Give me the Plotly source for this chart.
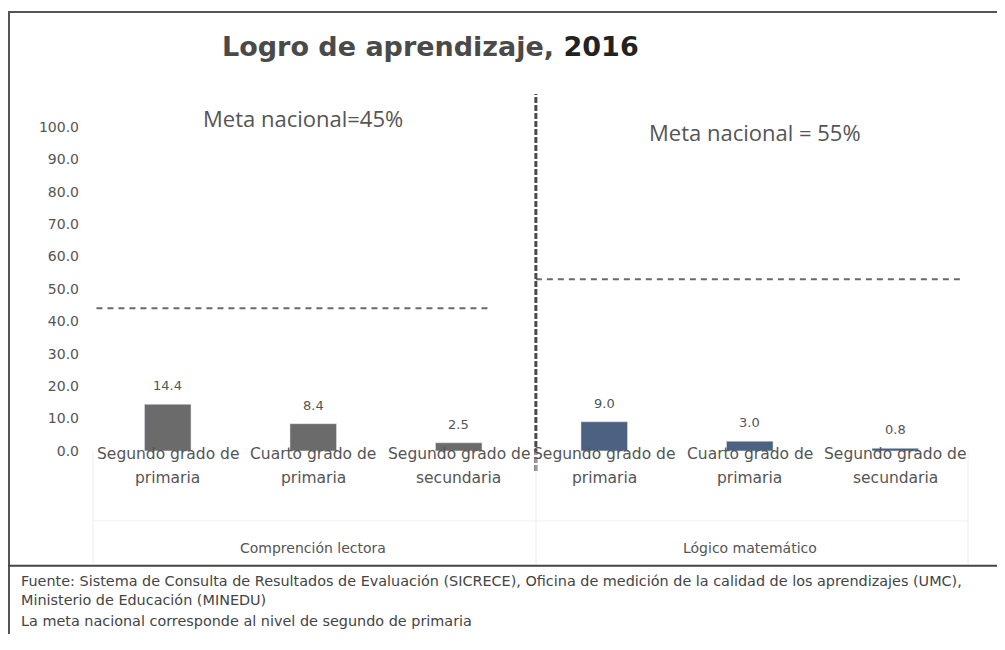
import plotly.graph_objects as go

categories = ["Segundo grado de<br>primaria", "Cuarto grado de<br>primaria", "Segundo grado de<br>secundaria",
              "Segundo grado de<br>primaria", "Cuarto grado de<br>primaria", "Segundo grado de<br>secundaria"]
groups = ["Comprención lectora", "Lógico matemático"]
lectora = [14.4, 8.4, 2.5]
matematico = [9.0, 3.0, 0.8]
meta_lectora = 44.0
meta_matematico = 53.0
yticks = [0, 10, 20, 30, 40, 50, 60, 70, 80, 90, 100]

OFF = 8  # page body margin
W, H = 1005 - 2 * OFF, 650 - 2 * OFF
X0, X1 = 95, 968
Y0, Y1 = 450, 126
FONT = "DejaVu Sans, Arial"


def px(x):
    return (x - OFF) / W


def py(y):
    yi = (y - 7.2) / 0.975
    return (H - (yi - OFF)) / H


xpos = list(range(6))
fig = go.Figure()
fig.add_trace(go.Bar(x=xpos[:3], y=lectora, marker_color="#6b6b6b", width=0.32))
fig.add_trace(go.Bar(x=xpos[3:], y=matematico, marker_color="#4d6282", width=0.32))

# meta lines
fig.add_shape(type="line", xref="x", yref="y", x0=-0.49, x1=2.22, y0=meta_lectora, y1=meta_lectora,
              line=dict(color="#6a6a6a", width=2, dash="6px,5px"))
fig.add_shape(type="line", xref="x", yref="y", x0=2.53, x1=5.45, y0=meta_matematico, y1=meta_matematico,
              line=dict(color="#6a6a6a", width=2, dash="6px,5px"))
# vertical separator
fig.add_shape(type="line", xref="x", yref="paper", x0=2.53, x1=2.53, y0=py(470), y1=py(93),
              line=dict(color="#4a4a4a", width=3, dash="6px,2px"))

# label box (faint)
for xx in [X0 - 2, 536, X1]:
    fig.add_shape(type="line", xref="paper", yref="paper", x0=px(xx), x1=px(xx), y0=py(450), y1=py(563),
                  line=dict(color="#ececec", width=1))
fig.add_shape(type="line", xref="paper", yref="paper", x0=px(X0 - 2), x1=px(X1), y0=py(520), y1=py(520),
              line=dict(color="#f0f0f0", width=1))

# frame
fig.add_shape(type="line", xref="paper", yref="paper", x0=px(8), x1=1, y0=py(11), y1=py(11),
              line=dict(color="#555", width=2))
fig.add_shape(type="line", xref="paper", yref="paper", x0=px(9), x1=px(9), y0=0, y1=py(10),
              line=dict(color="#555", width=2))
fig.add_shape(type="line", xref="paper", yref="paper", x0=px(8), x1=1, y0=py(565), y1=py(565),
              line=dict(color="#444", width=2))

ann = []
# value labels
for xs, vals in ((xpos[:3], lectora), (xpos[3:], matematico)):
    for x, v in zip(xs, vals):
        ann.append(dict(x=x, y=v, xref="x", yref="y", text=f"{v:.1f}", showarrow=False,
                        xanchor="center", yanchor="bottom", yshift=9,
                        font=dict(size=13, color="#555", family=FONT)))
# title
ann.append(dict(x=px(430), y=py(46), xref="paper", yref="paper",
                text="<b>Logro de aprendizaje, <span style='color:#222'>2016</span></b>",
                showarrow=False, xanchor="center", yanchor="middle",
                font=dict(size=27, color="#4a4a4a", family=FONT)))
ann.append(dict(x=px(303), y=py(117), xref="paper", yref="paper", text="Meta nacional=45%",
                showarrow=False, xanchor="center", yanchor="middle",
                font=dict(size=22, color="#555", family="Open Sans, Arial")))
ann.append(dict(x=px(755), y=py(131), xref="paper", yref="paper", text="Meta nacional = 55%",
                showarrow=False, xanchor="center", yanchor="middle",
                font=dict(size=22, color="#555", family="Open Sans, Arial")))
# category labels
for i, c in enumerate(categories):
    for k, line in enumerate(c.split("<br>")):
        ann.append(dict(x=i, y=py(453 + 24 * k), xref="x", yref="paper", text=line, showarrow=False,
                        xanchor="center", yanchor="middle",
                        font=dict(size=15.5, color="#555", family=FONT)))
for i, g in enumerate(groups):
    ann.append(dict(x=1 + 3 * i, y=py(547), xref="x", yref="paper", text=g, showarrow=False,
                    xanchor="center", yanchor="middle",
                    font=dict(size=14, color="#555", family=FONT)))
# footnotes
notes = ["Fuente: Sistema de Consulta de Resultados de Evaluación (SICRECE), Oficina de medición de la calidad de los aprendizajes (UMC),",
         "Ministerio de Educación (MINEDU)",
         "La meta nacional corresponde al nivel de segundo de primaria"]
for t, yy in zip(notes, [580, 599, 620]):
    ann.append(dict(x=px(19), y=py(yy), xref="paper", yref="paper", text=t, showarrow=False,
                    xanchor="left", yanchor="middle",
                    font=dict(size=14.4, color="#444", family=FONT)))

fig.update_layout(
    width=W, height=H, margin=dict(l=0, r=0, t=0, b=0),
    paper_bgcolor="white", plot_bgcolor="white", showlegend=False,
    annotations=ann, barmode="overlay",
    xaxis=dict(domain=[px(X0), px(X1)], range=[-0.5, 5.5], showticklabels=False, showgrid=False,
               zeroline=False, showline=False, ticks=""),
    yaxis=dict(domain=[py(Y0), py(Y1)], range=[0, 100], tickvals=yticks,
               ticktext=[f"{v:.1f}" for v in yticks], showgrid=False, zeroline=False, showline=False,
               tickfont=dict(size=14, color="#555", family=FONT), ticklabelstandoff=15),
)

fig.write_html("out.html")
